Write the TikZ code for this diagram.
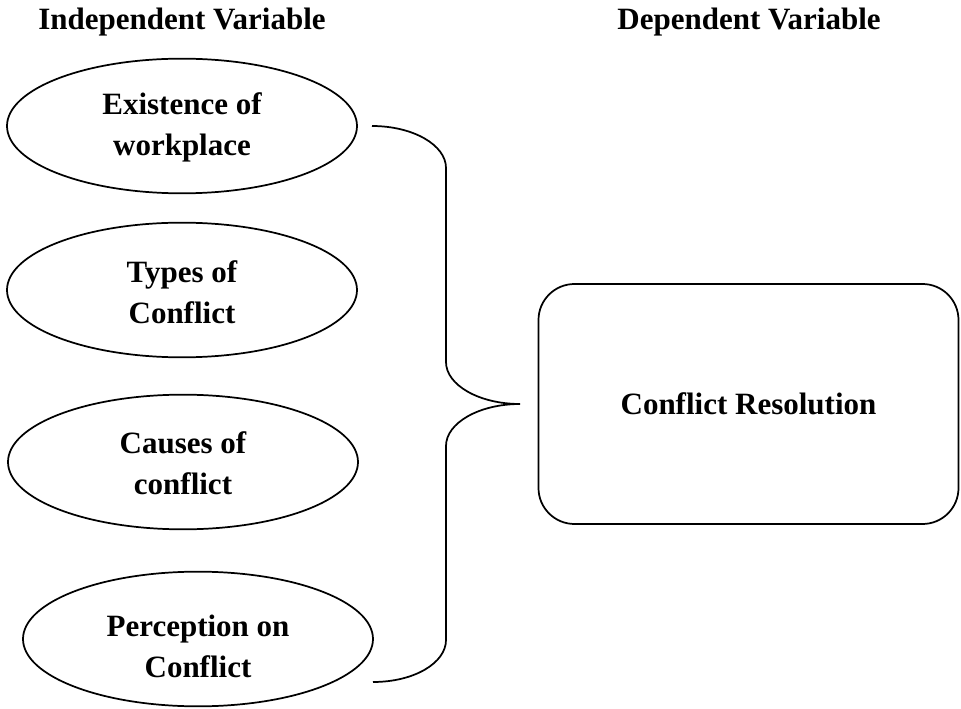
\documentclass[tikz,border=0pt]{standalone}
\usepackage{fontspec}
\setmainfont{Liberation Serif}
\usetikzlibrary{shapes.geometric}
\begin{document}
\begin{tikzpicture}[x=0.75pt,y=-0.75pt,
  every node/.style={font=\fontsize{23.25pt}{30.75pt}\selectfont\bfseries, align=center},
  varell/.style={draw, ellipse, line width=1.3pt, minimum width=262.5pt, minimum height=101pt, inner sep=0pt},
  lbl/.style={inner sep=0pt},
  resbox/.style={draw, rounded corners=27pt, line width=1.3pt, minimum width=315pt, minimum height=180pt, inner sep=0pt},
  bracel/.style={line width=1.3pt}
]
\useasboundingbox (0,0) rectangle (961,709);
\node (hi) at (182,22) {Independent Variable};
\node (hd) at (749,22) {Dependent Variable};
\node[varell] (e1) at (182,126) {};
\node[varell] (e2) at (182,290) {};
\node[varell] (e3) at (183,462) {};
\node[varell] (e4) at (198,639) {};
\node[lbl] (t1) at (182,127) {Existence of\\workplace};
\node[lbl] (t2) at (182,292) {Types of\\Conflict};
\node[lbl] (t3) at (183,463) {Causes of\\conflict};
\node[lbl] (t4) at (198,646) {Perception on\\Conflict};
\node[resbox] (res) at (748.5,404) {Conflict Resolution};
\coordinate (bt) at (372,126);
\coordinate (bv1) at (446,168);
\coordinate (bv2) at (446,362);
\coordinate (tip) at (520,404);
\coordinate (bv3) at (446,446);
\coordinate (bv4) at (446,640);
\coordinate (bb) at (373,682);
\draw[bracel] (bt) .. controls (413,126) and (446,145) .. (bv1)
  -- (bv2) .. controls (446,385) and (479,404) .. (tip)
  .. controls (479,404) and (446,423) .. (bv3)
  -- (bv4) .. controls (446,663) and (414,682) .. (bb);
\end{tikzpicture}
\end{document}
